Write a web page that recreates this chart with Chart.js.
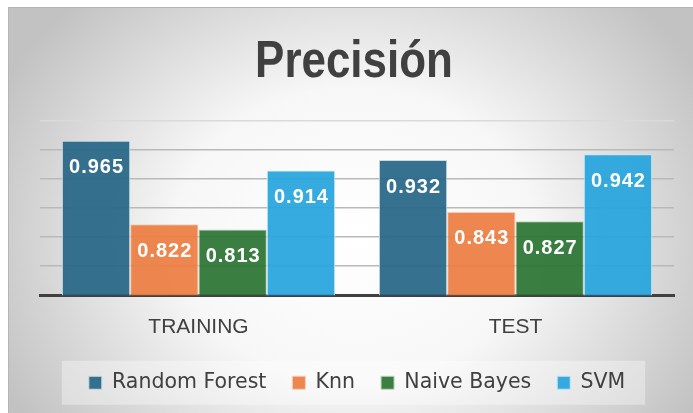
<!DOCTYPE html>
<html>
<head>
<meta charset="utf-8">
<script src="https://cdn.jsdelivr.net/npm/chart.js@4.4.0/dist/chart.umd.min.js"></script>
<style>
  body { margin: 0; background: #fff; }
  #wrap { width: 693px; height: 413px; }
</style>
</head>
<body>
<div id="wrap"><canvas id="precisionChart" width="693" height="413"></canvas></div>
<script>
// chart data
const categories = ['TRAINING', 'TEST'];
const seriesNames = ['Random Forest', 'Knn', 'Naive Bayes', 'SVM'];
const randomForest = [0.965, 0.932];
const knn = [0.822, 0.843];
const naiveBayes = [0.813, 0.827];
const svm = [0.914, 0.942];
const yMin = 0.7;
const yMax = 1.0;
const yStep = 0.05;

const colors = ['rgba(37,102,135,0.92)', 'rgba(235,124,64,0.92)', 'rgba(42,115,49,0.92)', 'rgba(37,164,221,0.92)'];
const edgeColors = ['#c9dbe4', '#f6cdb5', '#bcd4bf', '#c4e5f4'];

const textColor = '#404040';
const titleText = 'Precisión';
const titleSize = 52;
const titlePadBottom = 27;

// background frame with soft radial shading
const backgroundPlugin = {
  id: 'frameBackground',
  beforeDraw(chart) {
    const ctx = chart.ctx;
    ctx.save();
    ctx.fillStyle = '#ffffff';
    ctx.fillRect(0, 0, chart.width, chart.height);
    ctx.translate(355, 235);
    ctx.scale(1.2, 1);
    const grad = ctx.createRadialGradient(0, 0, 0, 0, 0, 330);
    grad.addColorStop(0, '#ffffff');
    grad.addColorStop(0.45, '#f7f7f7');
    grad.addColorStop(1, '#c2c2c2');
    ctx.fillStyle = grad;
    ctx.fillRect((9 - 355) / 1.2, 8 - 235, 720 / 1.2, 420);
    ctx.restore();
    ctx.save();
    ctx.strokeStyle = '#b5b5b5';
    ctx.lineWidth = 1;
    ctx.strokeRect(8.5, 7.5, 700, 420);
    ctx.restore();
  }
};

// light box behind the legend
const legendBoxPlugin = {
  id: 'legendBox',
  beforeDraw(chart) {
    const lg = chart.legend;
    if (!lg || !lg.legendHitBoxes || !lg.legendHitBoxes.length) return;
    const boxes = lg.legendHitBoxes;
    const first = boxes[0];
    const last = boxes[boxes.length - 1];
    const ctx = chart.ctx;
    ctx.save();
    ctx.fillStyle = 'rgba(255,255,255,0.35)';
    ctx.fillRect(first.left - 27, first.top + first.height / 2 - 22, last.left + last.width - first.left + 47, 44);
    ctx.restore();
  }
};

// the title space is reserved by Chart.js; draw it slightly condensed like the original
const titlePlugin = {
  id: 'narrowTitle',
  afterDraw(chart) {
    const tb = chart.titleBlock;
    if (!tb) return;
    const ctx = chart.ctx;
    const cx = (tb.left + tb.right) / 2 - 3;
    const cy = tb.top + (titleSize * 1.2) / 2;
    ctx.save();
    ctx.translate(cx, cy);
    ctx.scale(0.845, 1);
    ctx.font = 'bold ' + titleSize + 'px "Liberation Sans", Arial, sans-serif';
    ctx.fillStyle = textColor;
    ctx.textAlign = 'center';
    ctx.textBaseline = 'middle';
    ctx.fillText(titleText, 0, 0);
    ctx.restore();
  }
};

// value labels inside the top of each bar
const valueLabelPlugin = {
  id: 'valueLabels',
  afterDatasetsDraw(chart) {
    const ctx = chart.ctx;
    ctx.save();
    ctx.font = 'bold 20px "Liberation Sans", Arial, sans-serif';
    ctx.letterSpacing = '1px';
    ctx.fillStyle = '#ffffff';
    ctx.textAlign = 'center';
    ctx.textBaseline = 'middle';
    chart.data.datasets.forEach((ds, i) => {
      chart.getDatasetMeta(i).data.forEach((bar, j) => {
        ctx.fillText(ds.data[j].toFixed(3), bar.x + 0.5, bar.y + 27);
      });
    });
    ctx.restore();
  }
};

const seriesValues = [randomForest, knn, naiveBayes, svm];

const chart = new Chart(document.getElementById('precisionChart'), {
  type: 'bar',
  data: {
    labels: categories,
    datasets: seriesNames.map((name, i) => ({
      label: name,
      data: seriesValues[i],
      backgroundColor: colors[i],
      borderColor: edgeColors[i],
      borderWidth: 1,
      borderSkipped: 'bottom',
      categoryPercentage: 0.862,
      barPercentage: 1.0
    }))
  },
  options: {
    responsive: false,
    animation: false,
    devicePixelRatio: 1,
    layout: { padding: { left: 40, right: 19, top: 31, bottom: 10 } },
    scales: {
      x: {
        grid: { display: false },
        border: { display: true, color: '#404040', width: 3 },
        ticks: {
          color: textColor,
          padding: 11,
          font: { family: '"Liberation Sans", Arial, sans-serif', size: 21 }
        },
        afterFit(scale) { scale.height -= 4; }
      },
      y: {
        min: yMin,
        max: yMax,
        ticks: { display: false, stepSize: yStep },
        border: { display: false },
        grid: {
          drawTicks: false,
          lineWidth: 1.5,
          color: (c) => (c.tick && c.tick.value >= yMax - 1e-9 ? '#dadada' : '#b9b9b9')
        },
        afterFit(scale) { scale.width = 0; }
      }
    },
    plugins: {
      title: {
        display: true,
        text: titleText,
        color: 'rgba(0,0,0,0)',
        font: { family: '"Liberation Sans", Arial, sans-serif', size: titleSize, weight: 'bold' },
        padding: { top: 0, bottom: titlePadBottom }
      },
      legend: {
        position: 'bottom',
        labels: {
          color: textColor,
          boxWidth: 13,
          boxHeight: 13,
          padding: 26,
          font: { family: '"DejaVu Sans", sans-serif', size: 20.5 }
        }
      },
      tooltip: { enabled: false }
    }
  },
  plugins: [backgroundPlugin, legendBoxPlugin, titlePlugin, valueLabelPlugin]
});
</script>
</body>
</html>
